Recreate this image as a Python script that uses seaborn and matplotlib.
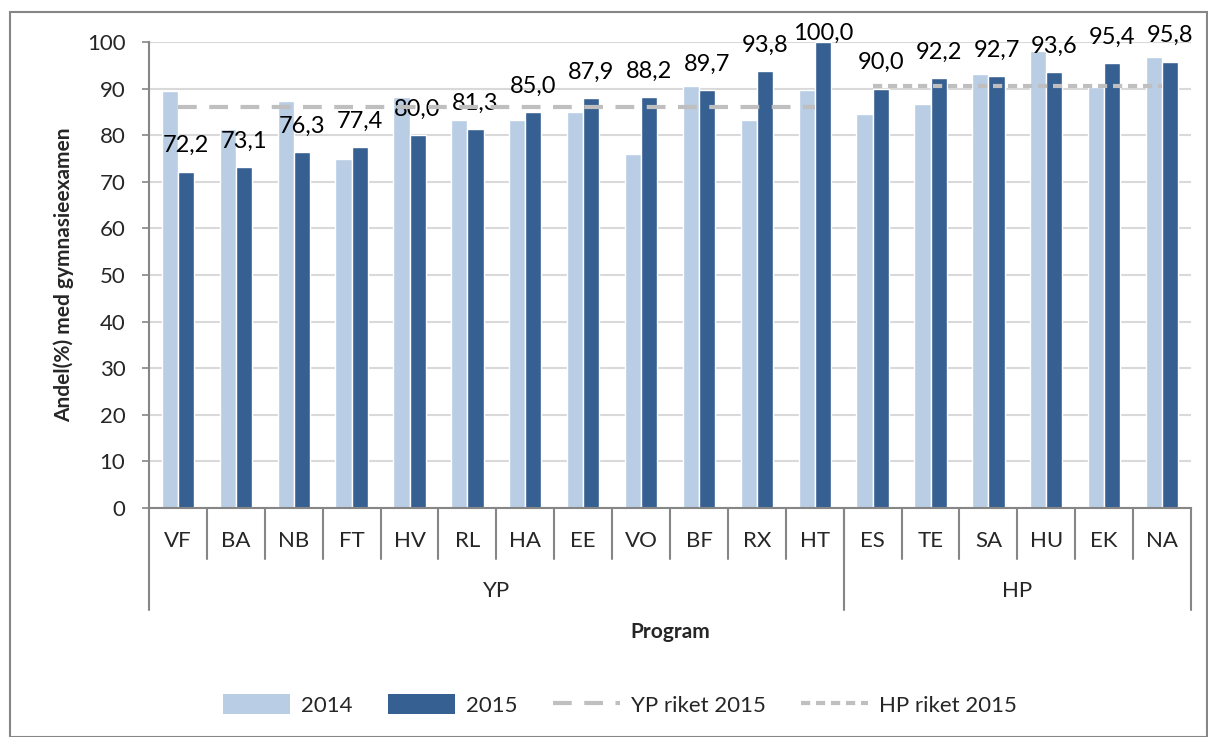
import matplotlib
matplotlib.use("Agg")
import matplotlib.pyplot as plt
import matplotlib.transforms as mtransforms
from matplotlib.patches import Patch, Rectangle
from matplotlib.lines import Line2D
import pandas as pd
import seaborn as sns

# data
program = ["VF", "BA", "NB", "FT", "HV", "RL", "HA", "EE", "VO", "BF", "RX", "HT",
           "ES", "TE", "SA", "HU", "EK", "NA"]
grupp = ["YP"] * 12 + ["HP"] * 6
andel_2014 = [89.5, 81.3, 87.4, 75.0, 88.1, 83.3, 83.3, 85.0, 76.0, 90.6, 83.3, 89.6,
              84.6, 86.8, 93.2, 98.0, 90.3, 96.8]
andel_2015 = [72.2, 73.1, 76.3, 77.4, 80.0, 81.3, 85.0, 87.9, 88.2, 89.7, 93.8, 100.0,
              90.0, 92.2, 92.7, 93.6, 95.4, 95.8]
yp_riket_2015 = 86.1
hp_riket_2015 = 90.6

c14 = "#B9CDE5"
c15 = "#366092"
cline = "#BFBFBF"
cgrid = "#D9D9D9"
caxis = "#868686"

df = pd.DataFrame({
    "Program": program * 2,
    "Andel": andel_2014 + andel_2015,
    "År": ["2014"] * len(program) + ["2015"] * len(program),
})

sns.set_style("white")
plt.rcParams["font.family"] = ["Lato", "DejaVu Sans"]

W, H = 1208, 737
fig = plt.figure(figsize=(W / 100, H / 100), dpi=100)
ax = fig.add_axes([149 / W, 1 - 508 / H, (1191 - 149) / W, (508 - 42) / H])

sns.barplot(data=df, x="Program", y="Andel", hue="År", order=program,
            palette=[c14, c15], width=0.56, gap=0, saturation=1,
            legend=False, ax=ax)

# riket lines
pos = list(range(len(program)))
yp_pos = [p for p, g in zip(pos, grupp) if g == "YP"]
hp_pos = [p for p, g in zip(pos, grupp) if g == "HP"]
ax.plot([yp_pos[0], yp_pos[-1]], [yp_riket_2015] * 2, color=cline, lw=3,
        dashes=(4.5, 3), zorder=4)
ax.plot([hp_pos[0], hp_pos[-1]], [hp_riket_2015] * 2, color=cline, lw=3,
        dashes=(2.2, 1.4), zorder=4)

# data labels for 2015
for p, v in zip(pos, andel_2015):
    off = 11 if v < 99 else -1
    ax.annotate(f"{v:.1f}".replace(".", ","), (p + 0.14, v), xytext=(0, off),
                textcoords="offset points", ha="center", va="bottom",
                fontsize=17, color="black", annotation_clip=False)

ax.set_ylim(0, 100)
ax.set_xlim(-0.5, len(program) - 0.5)
ax.set_yticks(range(0, 101, 10))
ax.yaxis.grid(True, color=cgrid, lw=1.5)
ax.set_axisbelow(True)
ax.set_xticks([])
ax.set_xlabel("")
ax.set_ylabel("Andel(%) med gymnasieexamen", fontsize=15, fontweight="bold",
              labelpad=9)
ax.tick_params(axis="y", length=5, width=1.2, color=caxis, pad=12, labelsize=16,
               left=True)
for s in ["top", "right"]:
    ax.spines[s].set_visible(False)
for s in ["left", "bottom"]:
    ax.spines[s].set_color(caxis)
    ax.spines[s].set_linewidth(1.5)

# category axis below
tr = mtransforms.blended_transform_factory(ax.transData, fig.transFigure)
for p, name in zip(pos, program):
    ax.text(p, 1 - 541 / H, name, transform=tr, ha="center", va="center",
            fontsize=16)
for p in pos[1:]:
    ax.add_line(Line2D([p - 0.5, p - 0.5], [1 - 508 / H, 1 - 559 / H],
                       transform=tr, color=caxis, lw=1.5, clip_on=False))
for x in [yp_pos[0] - 0.5, hp_pos[0] - 0.5, hp_pos[-1] + 0.5]:
    ax.add_line(Line2D([x, x], [1 - 508 / H, 1 - 610 / H],
                       transform=tr, color=caxis, lw=1.5, clip_on=False))
for g, ps in [("YP", yp_pos), ("HP", hp_pos)]:
    ax.text((ps[0] + ps[-1]) / 2, 1 - 591 / H, g, transform=tr, ha="center",
            va="center", fontsize=16)
fig.text((149 + 1191) / 2 / W, 1 - 632 / H, "Program", ha="center", va="center",
         fontsize=15, fontweight="bold")

handles = [
    Patch(facecolor=c14, edgecolor="none"),
    Patch(facecolor=c15, edgecolor="none"),
    Line2D([], [], color=cline, lw=3, dashes=(4.5, 3)),
    Line2D([], [], color=cline, lw=3, dashes=(2.2, 1.4)),
]
fig.legend(handles, ["2014", "2015", "YP riket 2015", "HP riket 2015"],
           loc="center", bbox_to_anchor=(620 / W, 1 - 705 / H), ncol=4,
           frameon=False, fontsize=16, handlelength=3.0, handleheight=1.0,
           columnspacing=1.6, handletextpad=0.5)

fig.patches.append(Rectangle((10 / W, 0.5 / H), (W - 11) / W, (H - 12.5) / H,
                             transform=fig.transFigure, fill=False,
                             edgecolor=caxis, lw=1.5))

fig.savefig("out.png", dpi=100)
